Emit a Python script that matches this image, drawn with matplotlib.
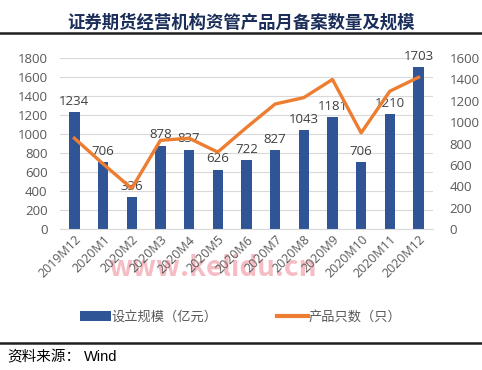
import matplotlib
matplotlib.use("Agg")
import matplotlib.pyplot as plt
from matplotlib.lines import Line2D
from matplotlib.patches import Patch

plt.rcParams['font.family'] = ['Noto Sans CJK SC', 'DejaVu Sans']

categories = ["2019M12", "2020M1", "2020M2", "2020M3", "2020M4", "2020M5", "2020M6",
              "2020M7", "2020M8", "2020M9", "2020M10", "2020M11", "2020M12"]
scale_values = [1234, 706, 336, 878, 837, 626, 722, 827, 1043, 1181, 706, 1210, 1703]
count_values = [850, 610, 380, 830, 850, 720, 950, 1170, 1230, 1400, 900, 1290, 1420]
left_ticks = [0, 200, 400, 600, 800, 1000, 1200, 1400, 1600, 1800]
right_ticks = [0, 200, 400, 600, 800, 1000, 1200, 1400, 1600]

title = "证券期货经营机构资管产品月备案数量及规模"
bar_label = "设立规模（亿元）"
line_label = "产品只数（只）"
source = "资料来源："
source2 = "Wind"
watermark = "www.kelidu.cn"

bar_color = "#2F5597"
line_color = "#ED7D31"
text_color = "#595959"

fig = plt.figure(figsize=(4.82, 3.70), dpi=100)
ax = fig.add_axes([0.1245, 0.381, 0.7735, 0.462])
x = list(range(len(categories)))
ax.bar(x, scale_values, width=0.36, color=bar_color, zorder=2)
ax.set_ylim(0, 1800)
ax.set_xlim(-0.5, len(categories) - 0.5)
ax.set_yticks(left_ticks)
ax.yaxis.grid(True, color="#D9D9D9", linewidth=0.8, zorder=0)
ax.set_axisbelow(True)
for s in ["top", "right", "left"]:
    ax.spines[s].set_visible(False)
ax.spines["bottom"].set_color("#D9D9D9")
ax.tick_params(axis="y", length=0, labelsize=9.5, labelcolor=text_color, pad=9)
ax.tick_params(axis="x", length=0, labelsize=9, labelcolor=text_color, pad=3)
ax.set_xticks(x)
ax.set_xticklabels(categories, rotation=45, ha="right", rotation_mode="anchor",
                   family=["Open Sans", "DejaVu Sans"])
for lbl in ax.get_yticklabels():
    lbl.set_family(["Open Sans", "DejaVu Sans"])

for xi, v in zip(x, scale_values):
    ax.annotate(str(v), (xi, v), xytext=(0, 3), textcoords="offset points",
                ha="center", va="bottom", fontsize=9.5, color="#404040",
                family=["Open Sans", "DejaVu Sans"], zorder=4)

ax2 = ax.twinx()
ax2.plot(x, count_values, color=line_color, linewidth=2.4, zorder=3,
         solid_joinstyle="round")
ax2.set_ylim(0, 1600)
ax2.set_yticks(right_ticks)
for s in ["top", "right", "left", "bottom"]:
    ax2.spines[s].set_visible(False)
ax2.tick_params(axis="y", length=0, labelsize=9.5, labelcolor=text_color, pad=12)
for lbl in ax2.get_yticklabels():
    lbl.set_family(["Open Sans", "DejaVu Sans"])

# Title and rules
fig.text(0.5, 0.94, title, ha="center", va="center", fontsize=12.5,
         fontweight="bold", color="#1B2E5A")
fig.add_artist(Line2D([0, 1], [1 - 33 / 370, 1 - 33 / 370], color="#202020", linewidth=1.8))
fig.add_artist(Line2D([0, 1], [1 - 343 / 370, 1 - 343 / 370], color="#202020", linewidth=1.8))

# Legend
handles = [Patch(facecolor=bar_color, edgecolor="none"),
           Line2D([0], [0], color=line_color, linewidth=3)]
leg = fig.legend(handles, [bar_label, line_label], loc="center",
                 bbox_to_anchor=(0.5, 1 - 317 / 370), ncol=2, frameon=False,
                 fontsize=9.5, handlelength=2.3, handletextpad=0.1, columnspacing=4.5)
for t in leg.get_texts():
    t.set_color(text_color)

# Source
fig.text(7 / 482, 1 - 357 / 370, source, ha="left", va="center", fontsize=10.5,
         color="#000000")
fig.text(84 / 482, 1 - 357 / 370, source2, ha="left", va="center", fontsize=10.5,
         color="#000000", family=["Liberation Sans", "DejaVu Sans"])

# Watermark
fig.text(0.44, 1 - 268 / 370, watermark, ha="center", va="center", fontsize=20,
         color="#F3A0AA", alpha=0.7, fontweight="bold", zorder=-1)

fig.savefig("out.png", dpi=100)
